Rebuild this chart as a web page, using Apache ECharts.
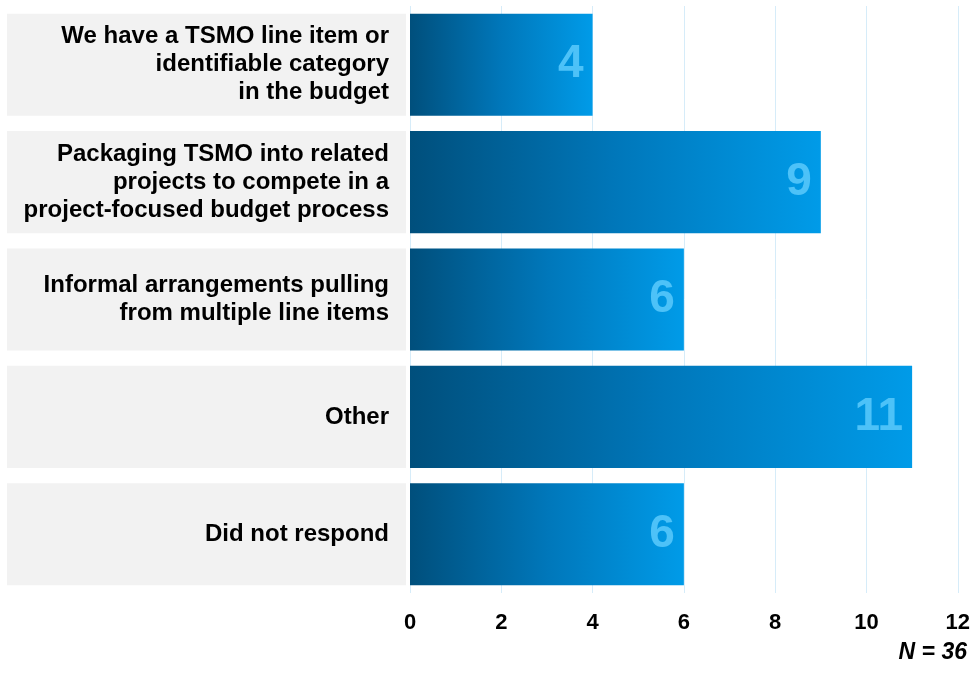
<!DOCTYPE html>
<html>
<head>
<meta charset="utf-8">
<script src="https://cdn.jsdelivr.net/npm/echarts@6/dist/echarts.min.js"></script>
<style>
  html, body { margin: 0; padding: 0; background: #ffffff; }
  #chart { width: 973px; height: 673px; }
</style>
</head>
<body>
<div id="chart"></div>
<script>
// Budget approaches for TSMO (number of respondents)
var categories = [
  'We have a TSMO line item or\nidentifiable category\nin the budget',
  'Packaging TSMO into related\nprojects to compete in a\nproject-focused budget process',
  'Informal arrangements pulling\nfrom multiple line items',
  'Other',
  'Did not respond'
];
var counts = [4, 9, 6, 11, 6];
var axisTicks = [0, 2, 4, 6, 8, 10, 12];
var sampleNote = 'N = 36';

var FONT = 'Arial, "Liberation Sans", Helvetica, sans-serif';
var chart = echarts.init(document.getElementById('chart'), null, { renderer: 'canvas' });

var barGradient = new echarts.graphic.LinearGradient(0, 0, 1, 0, [
  { offset: 0, color: '#004f7c' },
  { offset: 0.5, color: '#0077ba' },
  { offset: 1, color: '#009be8' }
]);

var option = {
  backgroundColor: '#ffffff',
  animation: false,
  title: {
    text: sampleNote,
    right: 1,
    top: 636,
    textStyle: { fontFamily: FONT, fontSize: 23, fontWeight: 'bold', fontStyle: 'italic', color: '#000' }
  },
  grid: [
    { left: 410, right: 15, top: 6, bottom: 80 },
    { left: 7, width: 399, top: 6, bottom: 80 }
  ],
  xAxis: [
    {
      gridIndex: 0,
      type: 'value',
      min: axisTicks[0],
      max: axisTicks[axisTicks.length - 1],
      interval: axisTicks[1] - axisTicks[0],
      axisLine: { show: false },
      axisTick: { show: false },
      splitLine: { show: true, lineStyle: { color: '#d6ecf9', width: 1 } },
      axisLabel: {
        margin: 19,
        fontFamily: FONT, fontSize: 22, fontWeight: 'bold', color: '#000'
      }
    },
    {
      gridIndex: 1,
      type: 'value',
      min: 0, max: 1,
      show: false
    }
  ],
  yAxis: [
    {
      gridIndex: 0,
      type: 'category',
      data: categories,
      inverse: true,
      axisLine: { show: false },
      axisTick: { show: false },
      axisLabel: { show: false },
      splitLine: { show: false }
    },
    {
      gridIndex: 1,
      type: 'category',
      data: categories,
      inverse: true,
      show: false
    }
  ],
  series: [
    {
      // grey panels holding the category names
      type: 'bar',
      xAxisIndex: 1,
      yAxisIndex: 1,
      data: categories.map(function () { return 1; }),
      barCategoryGap: '13%',
      itemStyle: { color: '#f2f2f2' },
      silent: true,
      label: {
        show: true,
        position: 'insideRight',
        distance: 17,
        formatter: function (p) { return p.name; },
        fontFamily: FONT, fontSize: 24, fontWeight: 'bold',
        lineHeight: 28, color: '#000', align: 'right'
      }
    },
    {
      type: 'bar',
      xAxisIndex: 0,
      yAxisIndex: 0,
      data: counts,
      barCategoryGap: '13%',
      itemStyle: { color: barGradient },
      label: {
        show: true,
        position: 'insideRight',
        distance: 9,
        fontFamily: FONT, fontSize: 46, fontWeight: 'bold',
        color: '#4dc2f8'
      }
    }
  ]
};

chart.setOption(option);
</script>
</body>
</html>
